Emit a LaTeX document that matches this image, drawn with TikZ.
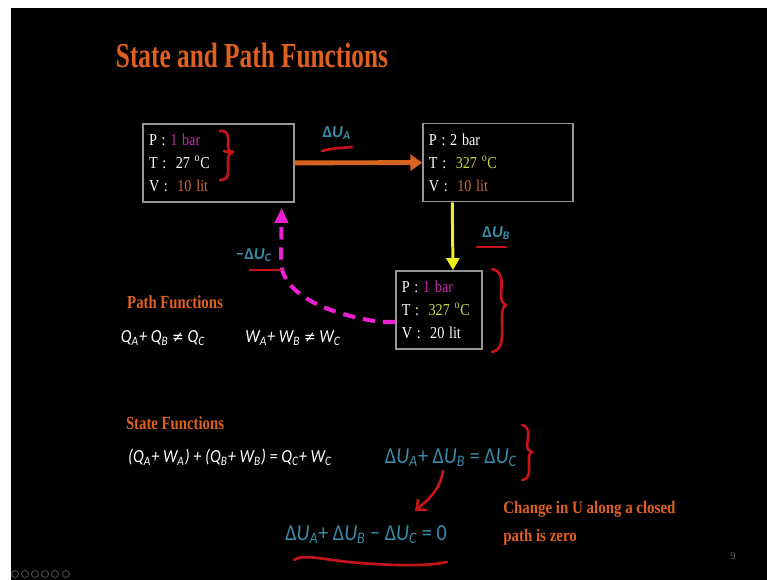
\documentclass[tikz,border=0pt]{standalone}
\usepackage{fontspec}
\setmainfont{Liberation Serif}
\newfontfamily\calib{Carlito}
\newfontfamily\symfont{DejaVu Sans}
\usepackage{tikz}
\usetikzlibrary{arrows.meta,calc}
\definecolor{slideorange}{RGB}{224,96,32}
\definecolor{flowteal}{RGB}{58,140,168}
\definecolor{penred}{RGB}{200,20,25}
\definecolor{cyclepink}{RGB}{235,30,210}
\definecolor{barpink}{RGB}{200,40,170}
\definecolor{pathyellow}{RGB}{240,240,30}
\definecolor{tempyellow}{RGB}{205,215,70}
\definecolor{litorange}{RGB}{205,105,50}
\definecolor{boxgrey}{RGB}{150,150,150}
\definecolor{arroworange}{RGB}{215,100,30}

\newcommand{\delU}[1]{Δ\textit{U}\textsubscript{\textit{#1}}}
\newcommand{\degC}{\textsuperscript{o}C}
\newcommand{\noteq}{{\symfont\upshape\small ≠}}

\begin{document}
\begin{tikzpicture}[x=0.02cm, y=-0.02cm,
    statebox/.style={draw=boxgrey, line width=1pt, text=white,
        font=\fontsize{9.5}{13}\selectfont, align=left, xscale=0.85, transform shape,
        inner xsep=0.14cm, inner ysep=0pt, minimum height=1.56cm},
    slidetitle/.style={text=slideorange, font=\fontsize{20}{24}\selectfont\bfseries,
        xscale=0.72, transform shape},
    heading/.style={text=slideorange, font=\fontsize{10.5}{12}\selectfont\bfseries,
        xscale=0.8, transform shape},
    note/.style={text=slideorange, font=\fontsize{10}{16}\selectfont\bfseries,
        xscale=0.85, transform shape, align=left},
    eqn/.style={text=white, font=\calib\itshape\fontsize{10.5}{13}\selectfont,
        xscale=0.88, transform shape},
    deqn/.style={text=flowteal, font=\calib\fontsize{13}{15}\selectfont,
        xscale=0.88, transform shape},
    dlabel/.style={text=flowteal, font=\calib\bfseries\fontsize{9.5}{11}\selectfont},
    orangearrow/.style={-{Triangle[length=0.24cm,width=0.32cm]}, line width=2.8pt, draw=arroworange},
    yellowarrow/.style={-{Triangle[length=0.24cm,width=0.26cm]}, line width=1.7pt, draw=pathyellow},
    pinkarrow/.style={-{Triangle[length=0.3cm,width=0.26cm]}, line width=2.3pt, draw=cyclepink,
        dash pattern=on 7pt off 4.5pt},
    pen/.style={draw=penred, line width=1.5pt, line cap=round, line join=round}
]
\useasboundingbox (0,0) rectangle (767,580);
\fill[white] (0,0) rectangle (767,580);
\fill[black] (11,8) rectangle (767,580);

\node[slidetitle] (title) at (252,56) {State and Path Functions};

% the three states
\node[statebox, text width=3.27cm] (s1) at (218.5,163)
    {P : \textcolor{barpink}{1 bar}\\ T :~ 27 \degC\\ V :~ \textcolor{litorange}{10 lit}};
\node[statebox, text width=3.25cm] (s2) at (498,162.5)
    {P : 2 bar\\ T :~ \textcolor{tempyellow}{327 \degC}\\ V :~ \textcolor{litorange}{10 lit}};
\node[statebox, text width=1.75cm] (s3) at (439,310)
    {P : \textcolor{barpink}{1 bar}\\ T :~ \textcolor{tempyellow}{327 \degC}\\ V :~ 20 lit};

\draw[orangearrow] (s1) -- node[dlabel, pos=0.33, above=0.3cm] (lA) {\delU{A}} (s2);
\draw[yellowarrow] ([xshift=0.6cm]s2.south west) -- node[dlabel, pos=0.45, right=0.45cm] (lB) {\delU{B}} ([xshift=0.28cm]s3.north);
\draw[pinkarrow] ([yshift=-0.24cm]s3.west) -- ++(-14,0)
    .. controls (330,315) and (282,295) .. (281,262)
    -- node[dlabel, pos=0.12, left=0.02cm] (lC) {−\delU{C}} ([xshift=-0.26cm,yshift=-0.1cm]s1.south east);

% hand marks
\draw[pen] (220,131) .. controls (230,130) and (228,140) .. (228,146)
    .. controls (228,150) and (230,152) .. (233,152)
    .. controls (229,153) and (228,156) .. (228,162)
    .. controls (228,172) and (230,180) .. (220,180);
\draw[pen] (224,151) -- (231,153);
\draw[pen] (492,269) .. controls (503,271) and (502,282) .. (501,295)
    .. controls (501,301) and (503,304) .. (506,305)
    .. controls (502,307) and (502,312) .. (502,320)
    .. controls (502,335) and (504,350) .. (492,352);
\draw[pen] (522,425) .. controls (531,427) and (528,437) .. (527,445)
    .. controls (527,449) and (529,451) .. (532,452)
    .. controls (528,454) and (529,458) .. (529,464)
    .. controls (529,472) and (530,479) .. (522,480);
\draw[pen] (322,151) .. controls (332,148) and (342,148) .. (352,147);
\draw[pen] (477,247) -- (506,247);
\draw[pen] (250,270) -- (280,270);

% path functions
\node[heading] (pf) at (175,302) {Path Functions};
\node[eqn] (qpath) at (163,338) {Q\textsubscript{A}+ Q\textsubscript{B} \noteq{} Q\textsubscript{C}};
\node[eqn] (wpath) at (293,338) {W\textsubscript{A}+ W\textsubscript{B} \noteq{} W\textsubscript{C}};

% state functions
\node[heading] (sf) at (175,423) {State Functions};
\node[eqn] (qwsum) at (230,457)
    {(Q\textsubscript{A}+ W\textsubscript{A}) + (Q\textsubscript{B}+ W\textsubscript{B}) = Q\textsubscript{C}+ W\textsubscript{C}};
\node[deqn] (usum) at (451,458) {\delU{A}+ \delU{B} = \delU{C}};
\node[deqn] (uzero) at (366,535) {\delU{A}+ \delU{B} − \delU{C} = 0};
\node[note, anchor=west] (closed) at (498,523) {Change in U along a closed\\path is zero};

\draw[pen, -{Straight Barb[length=0.16cm,width=0.28cm]}] (443,471)
    .. controls (440,490) and (428,500) .. (415,511);
\draw[pen] (294,560) .. controls (302,553) and (330,561) .. (360,563)
    .. controls (400,566) and (430,566) .. (447,562);

% slide number and navigation
\node[text=white!40!black, font=\fontsize{6}{7}\selectfont] (pgno) at (733,556) {9};
\foreach \x in {15,25,35,45,55,66}
    \draw[white!30!black, line width=0.5pt] (\x,574) circle (3.5);
\end{tikzpicture}
\end{document}
